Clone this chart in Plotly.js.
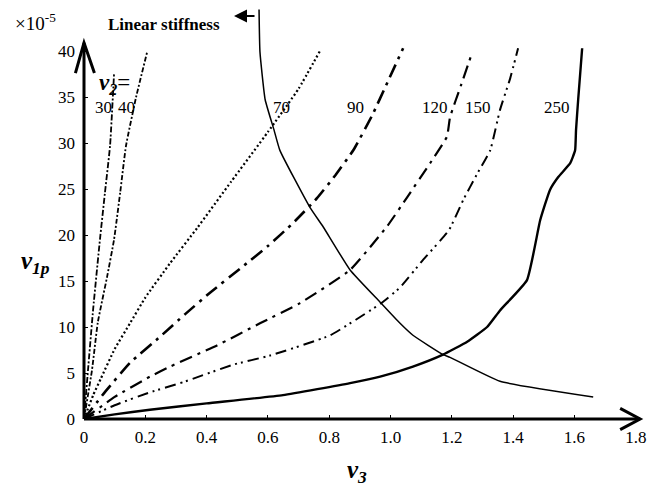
<!DOCTYPE html>
<html>
<head>
<meta charset="utf-8">
<script src="https://cdn.plot.ly/plotly-3.0.1.min.js"></script>
<style>html,body{margin:0;padding:0;background:#fff;}#chart{width:660px;height:493px;}</style>
</head>
<body>
<div id="chart"></div>
<script>
// ---- data (v3, v1p ×10^-5) ----
const v3_30  = [0, 0.013, 0.03, 0.052, 0.068, 0.085, 0.098];
const v1p_30 = [0, 5.3, 12, 19.5, 24.5, 29.7, 37.5];

const v3_40  = [0, 0.026, 0.045, 0.075, 0.098, 0.118, 0.137, 0.17, 0.206];
const v1p_40 = [0, 5.3, 10.5, 15.4, 19.5, 24.6, 29.7, 35, 39.9];

const v3_70  = [0, 0.03, 0.055, 0.1, 0.15, 0.2, 0.28, 0.37, 0.48, 0.6, 0.7, 0.773];
const v1p_70 = [0, 2.6, 4.4, 7.6, 10.4, 13.2, 16.9, 20.8, 25.8, 31.2, 35.9, 40.2];

const v3_90  = [0, 0.07, 0.15, 0.25, 0.33, 0.41, 0.515, 0.6, 0.682, 0.76, 0.82, 0.88, 0.94, 0.99, 1.041];
const v1p_90 = [0, 3, 6.1, 9, 11.4, 13.7, 16.5, 18.8, 21.3, 24, 26.5, 29.3, 33, 36.6, 40.3];

const v3_120  = [0, 0.1, 0.215, 0.281, 0.434, 0.574, 0.705, 0.868, 0.99, 1.054, 1.129, 1.184, 1.194, 1.23, 1.266];
const v1p_120 = [0, 2.4, 4.6, 5.7, 8, 10.4, 12.6, 16.2, 21, 24.1, 27.8, 30.7, 32.8, 36.3, 39.8];

const v3_150  = [0, 0.1, 0.215, 0.323, 0.486, 0.607, 0.803, 0.97, 1.031, 1.106, 1.19, 1.237, 1.28, 1.325, 1.357, 1.39, 1.416];
const v1p_150 = [0, 1.5, 2.9, 4, 5.9, 6.9, 9.1, 12.6, 14.3, 17.3, 20.5, 23.8, 26.5, 29.2, 33.6, 37, 40.3];

const v3_250  = [0, 0.1, 0.215, 0.4, 0.649, 0.868, 0.966, 1.073, 1.171, 1.25, 1.315, 1.357, 1.445, 1.488, 1.52, 1.547, 1.586, 1.602, 1.605, 1.612, 1.625];
const v1p_250 = [0, 0.5, 1.0, 1.7, 2.6, 3.9, 4.6, 5.7, 7, 8.4, 10, 11.8, 15.1, 21.6, 24.9, 26.3, 27.8, 29.2, 31.4, 34.7, 40.3];

const v3_lin  = [0.571, 0.574, 0.591, 0.62, 0.639, 0.737, 0.78, 0.868, 0.966, 1.031, 1.073, 1.171, 1.194, 1.357, 1.661];
const v1p_lin = [44.5, 39.9, 34.7, 31.4, 29.2, 23, 20.9, 16.2, 12.7, 10.4, 9.1, 7, 6.7, 4.1, 2.4];

const curveLabels = ['30', '40', '70', '90', '120', '150', '250'];
const labelX = [0.065, 0.137, 0.643, 0.887, 1.145, 1.285, 1.543];
const labelY = 33.9;

const xTicks = [0, 0.2, 0.4, 0.6, 0.8, 1.0, 1.2, 1.4, 1.6, 1.8];
const xTickText = ['0', '0.2', '0.4', '0.6', '0.8', '1.0', '1.2', '1.4', '1.6', '1.8'];
const yTicks = [0, 5, 10, 15, 20, 25, 30, 35, 40];

const X_MAX = 1.83, Y_MAX = 45;

// ---- traces ----
function tr(x, y, dash, width) {
  return {x: x, y: y, type: 'scatter', mode: 'lines', showlegend: false, hoverinfo: 'skip',
          line: {color: '#000', width: width, dash: dash, shape: 'spline', smoothing: 0.4}};
}
const data = [
  tr(v3_30, v1p_30, '6px,2px,2px,2px', 1.8),
  tr(v3_40, v1p_40, '5px,2px,2px,2px', 1.8),
  tr(v3_70, v1p_70, '2px,2.5px', 2.2),
  tr(v3_90, v1p_90, '14px,6px,3px,6px', 2.6),
  tr(v3_120, v1p_120, '13px,6px,3px,6px', 2.2),
  tr(v3_150, v1p_150, '11px,5px,2px,4px,2px,5px', 2.0),
  tr(v3_250, v1p_250, 'solid', 2.4),
  tr(v3_lin, v1p_lin, 'solid', 1.5)
];

const serif = 'Liberation Serif';

const annotations = curveLabels.map((t, i) => ({
  x: labelX[i], y: labelY, xref: 'x', yref: 'y', text: t, showarrow: false,
  font: {family: serif, size: 17, color: '#000'}, xanchor: 'center', yanchor: 'middle'
}));
annotations.push(
  {x: 0.101, y: 36.4, xref: 'x', yref: 'y', showarrow: false, xanchor: 'center', yanchor: 'middle',
   text: '<b><i>v</i></b><sub><b><i>2</i></b></sub>=', font: {family: serif, size: 23, color: '#000'}},
  {x: 0.891, y: -0.128, xref: 'x', yref: 'paper', showarrow: false, xanchor: 'center', yanchor: 'middle',
   text: '<b><i>v</i></b><sub><b><i>3</i></b></sub>', font: {family: serif, size: 25, color: '#000'}},
  {x: -0.0873, y: 0.377, xref: 'paper', yref: 'paper', showarrow: false, xanchor: 'center', yanchor: 'middle',
   text: '<b><i>v</i></b><sub><b><i>1p</i></b></sub>', font: {family: serif, size: 25, color: '#000'}},
  {x: -0.1266, y: 0.959, xref: 'paper', yref: 'paper', showarrow: false, xanchor: 'left', yanchor: 'middle',
   text: '×10<sup>-5</sup>', font: {family: serif, size: 19, color: '#000'}},
  {x: 0.1426, y: 0.954, xref: 'paper', yref: 'paper', showarrow: false, xanchor: 'center', yanchor: 'middle',
   text: '<b>Linear stiffness</b>', font: {family: serif, size: 17, color: '#000'}},
  {x: 0.2674, y: 0.9734, xref: 'paper', yref: 'paper', text: '', showarrow: true,
   ax: 22, ay: 0, arrowhead: 2, arrowsize: 1.3, arrowwidth: 2, arrowcolor: '#000'}
);

// axis lines with open arrow heads, in paper units (not clipped)
const px = v => v / X_MAX, py = v => v / Y_MAX;
const shapes = [
  {type: 'line', xref: 'paper', yref: 'paper', x0: 0, y0: 0, x1: px(1.814), y1: 0, line: {color: '#000', width: 3}},
  {type: 'path', xref: 'paper', yref: 'paper',
   path: `M ${px(1.749)} ${py(1.15)} L ${px(1.814)} 0 L ${px(1.749)} ${py(-1.15)}`, line: {color: '#000', width: 3}},
  {type: 'line', xref: 'paper', yref: 'paper', x0: 0, y0: 0, x1: 0, y1: py(40.9), line: {color: '#000', width: 3}},
  {type: 'path', xref: 'paper', yref: 'paper',
   path: `M ${px(-0.028)} ${py(37.6)} L 0 ${py(40.9)} L ${px(0.034)} ${py(37.6)}`, line: {color: '#000', width: 3}}
];

const layout = {
  width: 660, height: 493,
  margin: {l: 84, r: 15, t: 5, b: 74},
  paper_bgcolor: '#fff', plot_bgcolor: '#fff',
  showlegend: false,
  font: {family: serif, size: 17, color: '#000'},
  xaxis: {range: [0, X_MAX], showgrid: false, zeroline: false, showline: false,
          tickvals: xTicks, ticktext: xTickText, ticks: 'inside', ticklen: 4, tickwidth: 1, tickcolor: '#000',
          ticklabelstandoff: 6, tickfont: {family: serif, size: 17, color: '#000'}, fixedrange: true},
  yaxis: {range: [0, Y_MAX], showgrid: false, zeroline: false, showline: false,
          tickvals: yTicks, ticks: 'inside', ticklen: 4, tickwidth: 1, tickcolor: '#000',
          ticklabelstandoff: 8, tickfont: {family: serif, size: 17, color: '#000'}, fixedrange: true},
  annotations: annotations,
  shapes: shapes
};

Plotly.newPlot('chart', data, layout, {displayModeBar: false, staticPlot: true});
</script>
</body>
</html>
